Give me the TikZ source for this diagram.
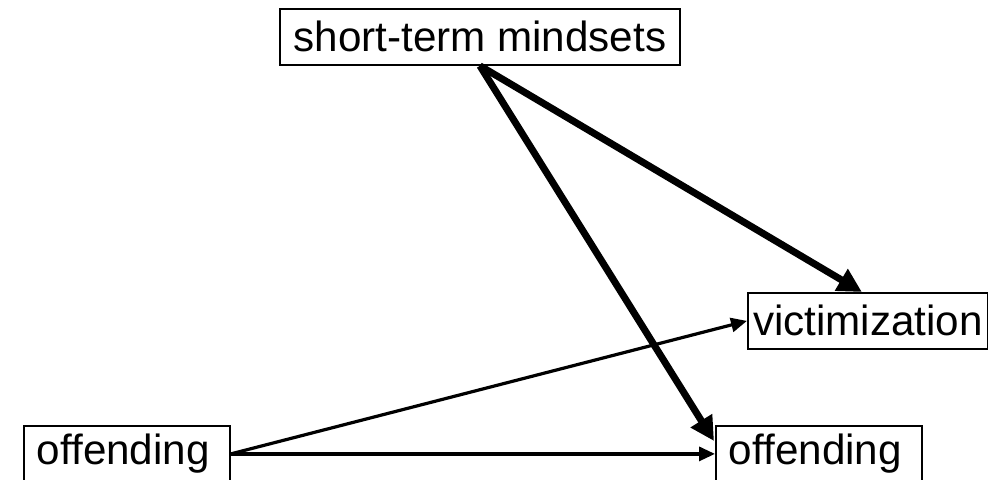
\documentclass[tikz,border=0pt]{standalone}
\usepackage{fontspec}
\setmainfont{Liberation Sans}
\usetikzlibrary{arrows.meta,calc}
\begin{document}
\begin{tikzpicture}[x=0.5pt,y=-0.5pt,
  box/.style={draw,line width=0.9pt,inner ysep=0pt,inner xsep=0pt,minimum height=28pt,
    anchor=north west,font=\fontsize{21.1pt}{25pt}\selectfont},
  leftbox/.style={box,inner xsep=6.5pt,align=left},
  thick arrow/.style={line width=3.5pt,-{Triangle[length=12pt,width=12pt]}},
  thin arrow/.style={line width=1.6pt,-{Triangle[length=8pt,width=7pt]}}]
\useasboundingbox (0,0) rectangle (988,480);
\clip (0,0) rectangle (988,480);
\node[box,minimum width=200pt] (stm) at (279,8) {short-term mindsets};
\node[box,minimum width=120pt] (vic) at (747,292) {victimization};
\node[leftbox,text width=103pt-13pt] (off1) at (23,425) {offending};
\node[leftbox,text width=103pt-13pt] (off2) at (715,425) {offending};
\draw[thick arrow] (stm.south) -- ($(vic.north)+(-6,0)$);
\draw[thick arrow] (stm.south) -- ($(off2.north west)+(-1,16)$);
\draw[thin arrow] (off1.east) -- (vic.west);
\draw[thin arrow] (off1.east) -- (off2.west);
\end{tikzpicture}
\end{document}
